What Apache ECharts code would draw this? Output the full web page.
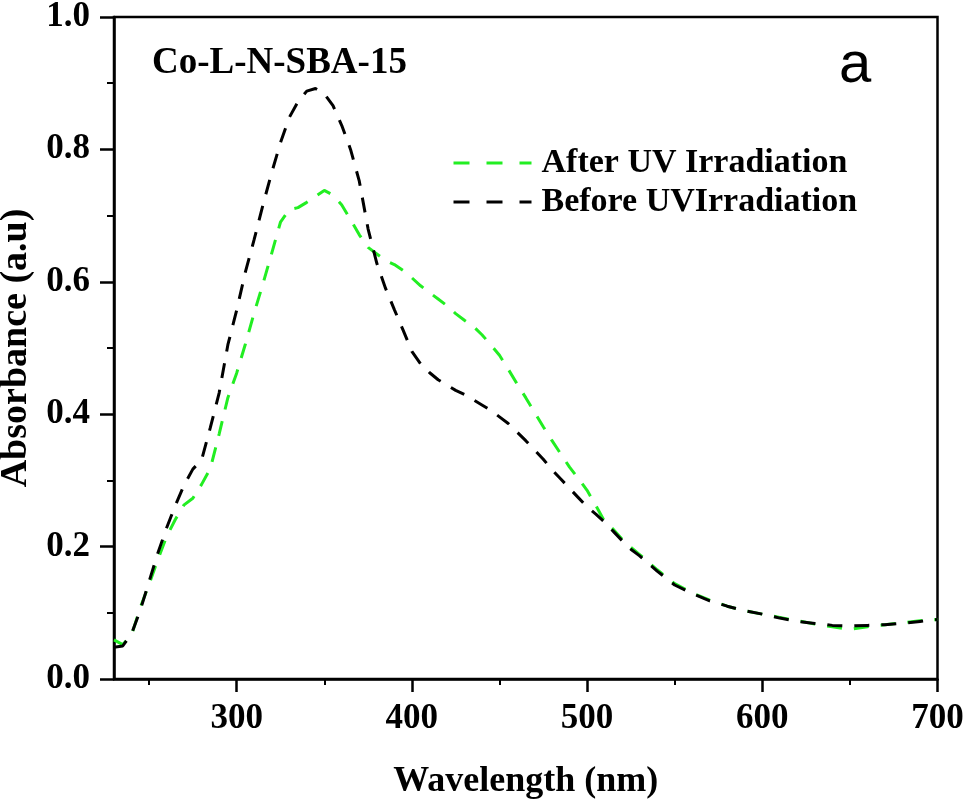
<!DOCTYPE html>
<html><head><meta charset="utf-8">
<script src="https://cdn.jsdelivr.net/npm/echarts@6/dist/echarts.min.js"></script>
<style>html,body{margin:0;padding:0;background:#fff}#c{width:969px;height:805px}</style>
</head><body><div id="c"></div>
<script>
const wavelength = [230,235,240,245,250,255,260,265,270,275,280,285,290,295,300,305,310,315,320,325,330,335,340,345,350,355,360,365,370,375,380,385,390,395,400,405,410,415,420,425,430,435,440,445,450,455,460,465,470,475,480,485,490,495,500,505,510,515,520,525,530,540,550,560,570,580,590,600,610,620,630,640,650,660,670,680,690,700];
const afterUV = [0.059,0.052,0.066,0.108,0.143,0.180,0.215,0.241,0.263,0.273,0.294,0.318,0.370,0.425,0.462,0.506,0.553,0.597,0.643,0.690,0.709,0.712,0.720,0.729,0.738,0.731,0.716,0.694,0.671,0.652,0.642,0.632,0.626,0.617,0.606,0.594,0.584,0.574,0.564,0.552,0.542,0.533,0.520,0.505,0.489,0.468,0.446,0.425,0.403,0.381,0.360,0.340,0.320,0.303,0.285,0.262,0.238,0.226,0.211,0.199,0.188,0.165,0.144,0.130,0.119,0.110,0.103,0.098,0.093,0.088,0.083,0.079,0.075,0.079,0.082,0.085,0.088,0.090];
const beforeUV = [0.048,0.050,0.068,0.104,0.147,0.190,0.228,0.262,0.293,0.317,0.331,0.380,0.432,0.505,0.557,0.615,0.664,0.716,0.765,0.810,0.848,0.872,0.888,0.892,0.884,0.866,0.836,0.800,0.752,0.680,0.628,0.590,0.558,0.527,0.495,0.476,0.463,0.452,0.444,0.436,0.430,0.422,0.414,0.406,0.396,0.386,0.373,0.360,0.346,0.332,0.316,0.302,0.288,0.274,0.260,0.249,0.237,0.223,0.209,0.196,0.186,0.163,0.142,0.129,0.118,0.110,0.103,0.098,0.092,0.087,0.084,0.081,0.080,0.081,0.082,0.084,0.087,0.090];
const xMajorTicks = [300,400,500,600,700];
const xMinorTicks = [250,350,450,550,650];
const seriesNames = ['After UV Irradiation','Before UVIrradiation'];
const sampleLabel = 'Co-L-N-SBA-15';
const panelLabel = 'a';
const xTitle = 'Wavelength (nm)';
const yTitle = 'Absorbance (a.u)';

const pairs = ys => wavelength.map((x, i) => [x, ys[i]]);
const serif = '"Liberation Serif", "Times New Roman", serif';
const chart = echarts.init(document.getElementById('c'));
chart.setOption({
  animation: false,
  backgroundColor: '#fff',
  grid: {left: 114, right: 31.5, top: 17, bottom: 126, containLabel: false, outerBoundsMode: 'none',
    show: true, borderColor: '#000', borderWidth: 2.5, backgroundColor: 'transparent'},
  title: {text: sampleLabel, left: 152, top: 45, padding: 0,
    textStyle: {fontFamily: serif, fontWeight: 'bold', fontSize: 37, color: '#000'}},
  graphic: [{type: 'text', x: 839, y: 66, z: 100,
    style: {text: panelLabel, font: '58px "Liberation Sans", Arial, sans-serif', fill: '#000', verticalAlign: 'middle', textVerticalAlign: 'middle'}}],
  legend: {orient: 'vertical', left: 452, top: 146, padding: 0, itemWidth: 78, itemHeight: 14, itemGap: 5,
    data: seriesNames,
    itemStyle: {opacity: 0, borderWidth: 0},
    lineStyle: {type: [16, 17], width: 3},
    textStyle: {fontFamily: serif, fontWeight: 'bold', fontSize: 34, color: '#000', padding: [0, 0, 0, 5]}},
  xAxis: [
    {type: 'value', min: 230, max: 700, position: 'bottom',
      axisLine: {onZero: false, lineStyle: {color: '#000', width: 2.5}},
      axisTick: {customValues: xMajorTicks, length: 13, lineStyle: {color: '#000', width: 2.5}},
      axisLabel: {customValues: xMajorTicks, margin: 22, fontFamily: serif, fontWeight: 'bold', fontSize: 35, color: '#000'},
      splitLine: {show: false},
      name: xTitle, nameLocation: 'middle', nameGap: 85,
      nameTextStyle: {fontFamily: serif, fontWeight: 'bold', fontSize: 36, color: '#000'}},
    {type: 'value', min: 230, max: 700, position: 'bottom', offset: 0,
      axisLine: {show: false, onZero: false},
      axisTick: {customValues: xMinorTicks, length: 6, lineStyle: {color: '#000', width: 2}},
      axisLabel: {show: false},
      splitLine: {show: false}}
  ],
  yAxis: {type: 'value', min: 0, max: 1, interval: 0.2,
    axisLine: {show: true, lineStyle: {color: '#000', width: 2.5}},
    axisTick: {show: true, length: 14, lineStyle: {color: '#000', width: 2.5}},
    minorTick: {show: true, splitNumber: 2, length: 7, lineStyle: {color: '#000', width: 2}},
    axisLabel: {margin: 24, formatter: v => v.toFixed(1), fontFamily: serif, fontWeight: 'bold', fontSize: 35, color: '#000'},
    splitLine: {show: false},
    name: yTitle, nameLocation: 'middle', nameGap: 75,
    nameTextStyle: {fontFamily: serif, fontWeight: 'bold', fontSize: 38, color: '#000'}},
  series: [
    {name: seriesNames[0], type: 'line', xAxisIndex: 0, data: pairs(afterUV), showSymbol: false, symbol: 'none',
      lineStyle: {color: '#22ee22', width: 3, type: [15, 12]}, itemStyle: {color: '#22ee22'}},
    {name: seriesNames[1], type: 'line', xAxisIndex: 0, data: pairs(beforeUV), showSymbol: false, symbol: 'none',
      lineStyle: {color: '#000', width: 3, type: [15, 12]}, itemStyle: {color: '#000'}}
  ]
});
</script></body></html>
